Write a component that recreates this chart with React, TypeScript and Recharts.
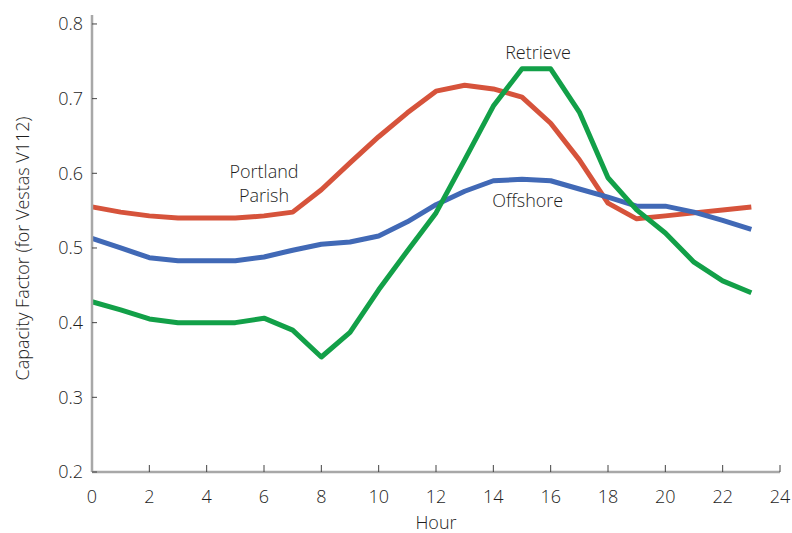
import { LineChart, Line, XAxis, YAxis, ReferenceDot, Label } from 'recharts'

const hours = [0, 1, 2, 3, 4, 5, 6, 7, 8, 9, 10, 11, 12, 13, 14, 15, 16, 17, 18, 19, 20, 21, 22, 23]
const portlandParish = [
  0.555, 0.548, 0.543, 0.54, 0.54, 0.54, 0.543, 0.548, 0.578, 0.614, 0.649, 0.681,
  0.71, 0.718, 0.713, 0.702, 0.667, 0.618, 0.56, 0.539, 0.543, 0.547, 0.551, 0.555,
]
const offshore = [
  0.513, 0.5, 0.487, 0.483, 0.483, 0.483, 0.488, 0.497, 0.505, 0.508, 0.516, 0.535,
  0.558, 0.576, 0.59, 0.592, 0.59, 0.579, 0.568, 0.556, 0.556, 0.548, 0.537, 0.525,
]
const retrieve = [
  0.428, 0.417, 0.405, 0.4, 0.4, 0.4, 0.406, 0.39, 0.354, 0.387, 0.444, 0.496,
  0.547, 0.618, 0.69, 0.74, 0.74, 0.682, 0.594, 0.551, 0.52, 0.481, 0.456, 0.44,
]
const xTicks = [0, 2, 4, 6, 8, 10, 12, 14, 16, 18, 20, 22, 24]
const yTicks = [0.2, 0.3, 0.4, 0.5, 0.6, 0.7, 0.8]

const data = hours.map((h, i) => ({
  hour: h,
  portland: portlandParish[i],
  offshore: offshore[i],
  retrieve: retrieve[i],
}))

const font = '"Open Sans", sans-serif'
const textColor = '#1e1e1e'
const tickStyle = { fill: textColor, fontSize: 18, fontFamily: font, fontWeight: 300 }
const noteStyle = { fill: textColor, fontSize: 18, fontFamily: font, fontWeight: 300 }

export default function App() {
  return (
    <div style={{ position: 'absolute', left: 0, top: 0, background: '#fff' }}>
      <LineChart width={792} height={533} data={data} margin={{ top: 15, right: 12, left: 0, bottom: 0 }}>
        <XAxis
          dataKey="hour"
          type="number"
          domain={[0, 24]}
          ticks={xTicks}
          height={61}
          tick={tickStyle}
          tickSize={-7}
          tickMargin={25}
          tickLine={{ stroke: '#444', strokeWidth: 1 }}
          axisLine={{ stroke: '#a8a8a8', strokeWidth: 2.5 }}
        >
          <Label value="Hour" position="insideBottom" offset={4} style={{ ...noteStyle }} />
        </XAxis>
        <YAxis
          type="number"
          domain={[0.2, 0.812]}
          ticks={yTicks}
          width={92}
          tick={tickStyle}
          tickFormatter={(v: number) => v.toFixed(1)}
          tickSize={-5}
          tickMargin={14}
          tickLine={{ stroke: '#444', strokeWidth: 1 }}
          axisLine={{ stroke: '#a8a8a8', strokeWidth: 2.5 }}
        >
          <Label
            content={(props: any) => {
              const vb = props.viewBox
              const x = vb.x + 22
              const y = vb.y + vb.height / 2 + 5
              return (
                <text
                  x={x}
                  y={y}
                  transform={`rotate(-90, ${x}, ${y})`}
                  textAnchor="middle"
                  dominantBaseline="central"
                  style={noteStyle}
                >
                  Capacity Factor (for Vestas V112)
                </text>
              )
            }}
          />
        </YAxis>
        <Line dataKey="portland" stroke="#d6533b" strokeWidth={5} dot={false} isAnimationActive={false} strokeLinejoin="round" />
        <Line dataKey="offshore" stroke="#4169b6" strokeWidth={5} dot={false} isAnimationActive={false} strokeLinejoin="round" />
        <Line dataKey="retrieve" stroke="#12a048" strokeWidth={5} dot={false} isAnimationActive={false} strokeLinejoin="round" />
        <ReferenceDot x={6} y={0.602} r={0} stroke="none" fill="none" label={{ value: 'Portland', position: 'center', style: noteStyle }} />
        <ReferenceDot x={6} y={0.57} r={0} stroke="none" fill="none" label={{ value: 'Parish', position: 'center', style: noteStyle }} />
        <ReferenceDot x={15.56} y={0.762} r={0} stroke="none" fill="none" label={{ value: 'Retrieve', position: 'center', style: noteStyle }} />
        <ReferenceDot x={15.2} y={0.564} r={0} stroke="none" fill="none" label={{ value: 'Offshore', position: 'center', style: noteStyle }} />
      </LineChart>
    </div>
  )
}
